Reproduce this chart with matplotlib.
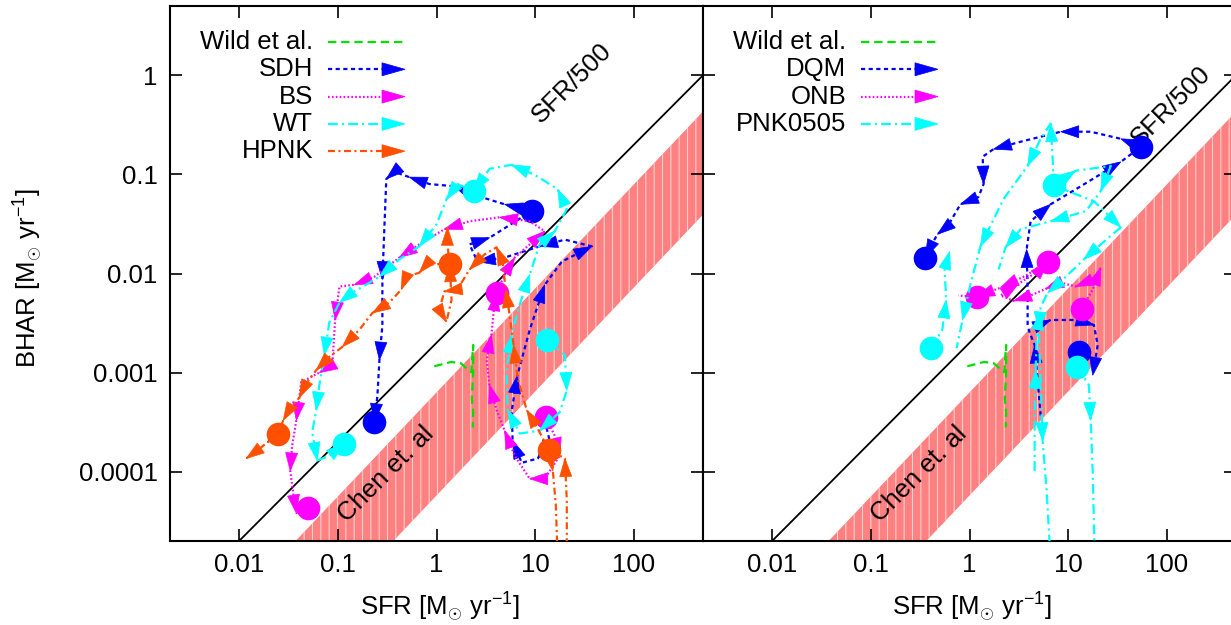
import numpy as np
import matplotlib
matplotlib.use('Agg')
import matplotlib.pyplot as plt
from matplotlib.patches import Polygon
from matplotlib.ticker import FixedLocator, FixedFormatter, NullLocator

nan = np.nan

# tick marks
x_ticks = [0.01, 0.1, 1, 10, 100]
x_labels = ['0.01', '0.1', '1', '10', '100']
y_ticks = [1e-4, 1e-3, 1e-2, 1e-1, 1]
y_labels = ['0.0001', '0.001', '0.01', '0.1', '1']

# Chen et al. relation: log BHAR = norm +/- scatter + slope * log SFR
chen_norm = -3.72
chen_scatter = 0.52
chen_slope = 1.05

# Wild et al. (same curve in both panels)
wild_sfr = [0.95, 1.4, 1.75, 2.0, 2.25, 2.35, 2.35, 2.28, 2.35, 2.33]
wild_bhar = [1.16e-3, 1.28e-3, 1.25e-3, 1.11e-3, 1.01e-3, 1.9e-3, 1.0e-3, 5.5e-4, 4.0e-4, 2.8e-4]

# ---- left panel tracks ----
sdh_sfr = [12.5, 14.0, 10.6, 7.3, 5.9, 5.8, 6.6, 8.8, 12.5, 18.6, 37.5, 20, 11.1, 4.9, 2.6, 2.16,
           3.45, 9.2, 4.9, 2.43, 1.52, 0.85, 0.53, 0.375, 0.31, 0.296, 0.283, 0.283, 0.264, 0.252, 0.235]
sdh_bhar = [3.3e-4, 2.06e-4, 1.36e-4, 1.23e-4, 2.06e-4, 4.2e-4, 9.4e-4, 2.7e-3, 7.7e-3, 1.32e-2, 1.88e-2,
            2.2e-2, 1.88e-2, 1.45e-2, 1.32e-2, 1.97e-2, 2.3e-2, 4.26e-2, 5.0e-2, 6.2e-2, 7.6e-2, 8.0e-2,
            9.4e-2, 0.106, 0.09, 0.028, 8.7e-3, 3.03e-3, 1.34e-3, 5.9e-4, 3.2e-4]
sdh_circ_sfr = [9.2, 0.235]
sdh_circ_bhar = [4.26e-2, 3.2e-4]

bs_sfr = [12.8, 15.8, 17.7, 12.5, 8.8, 6.2, 4.9, 4.06, 3.45, 3.22, 3.6, 3.79, 4.06, 4.9, 6.2, 8.8, 12.5,
          8.8, 4.36, 2.16, 1.2, 0.67, 0.42, 0.235, 0.147, 0.104, 0.094, 0.088, 0.065, 0.0426, 0.038,
          0.0345, 0.033, 0.0353, 0.038, 0.050]
bs_bhar = [3.6e-4, 2.3e-4, 1.45e-4, 8.5e-5, 8.5e-5, 1.45e-4, 2.6e-4, 4.2e-4, 7.5e-4, 1.34e-3, 2.4e-3,
           4.1e-3, 6.4e-3, 9.8e-3, 1.45e-2, 1.97e-2, 2.67e-2, 3.37e-2, 3.7e-2, 3.37e-2, 2.8e-2, 1.97e-2,
           1.45e-2, 9.3e-3, 7.7e-3, 7.4e-3, 3.4e-3, 1.19e-3, 1.0e-3, 8.0e-4, 3.3e-4, 1.84e-4, 1.02e-4,
           6.1e-5, 3.84e-5, 4.3e-5]
bs_circ_sfr = [12.8, 4.06, 0.050]
bs_circ_bhar = [3.6e-4, 6.4e-3, 4.3e-5]

wt_sfr = [13.1, 20, 20.9, 17.7, 11.1, 7.0, 5.26, 5.14, 5.77, 6.96, 8.8, 11.1, 15.8, 20.9, 16.9, 9.9,
          5.77, 3.45, 2.38, 1.63, 1.26, 1.0, 0.67, 0.42, 0.264, 0.14, 0.104, 0.082, 0.073, 0.065,
          0.0605, 0.055, 0.062, 0.082, 0.116]
wt_bhar = [2.14e-3, 1.5e-3, 6.6e-4, 4.0e-4, 2.6e-4, 2.43e-4, 4.2e-4, 1.06e-3, 2.4e-3, 4.84e-3, 9.8e-3,
           1.97e-2, 2.67e-2, 4.47e-2, 7.1e-2, 9.9e-2, 0.125, 0.114, 6.8e-2, 8.0e-2, 5.6e-2, 3.14e-2,
           1.88e-2, 1.39e-2, 9.3e-3, 6.4e-3, 5.1e-3, 3.2e-3, 1.5e-3, 7.5e-4, 4.2e-4, 2.5e-4, 1.3e-4,
           1.45e-4, 1.92e-4]
wt_circ_sfr = [13.1, 2.38, 0.116]
wt_circ_bhar = [2.14e-3, 6.8e-2, 1.92e-4]

hpnk_sfr = [20.9, 20.9, 20, 13.7, 15.1, 16.2, 16.9, nan,
            13.7, 10.6, 8.2, 6.64, 6.05, 5.5, 5.02, 4.68, 4.06, 3.07, 2.16, 1.63, 1.2, 1.07, 1.26, 1.42,
            1.36, 1.29, 1.29, nan,
            1.36, 0.79, 0.67, 0.495, 0.44, 0.333, 0.224, 0.165, 0.111, 0.082, 0.0605, 0.0479, 0.0407,
            0.0322, 0.028, 0.0249, 0.0192, 0.0152, 0.0118]
hpnk_bhar = [1.25e-5, 5.1e-5, 1.36e-4, 1.67e-4, 1.02e-4, 4.5e-5, 1.25e-5, nan,
             1.67e-4, 2.73e-4, 4.2e-4, 8.8e-4, 1.9e-3, 3.84e-3, 6.9e-3, 1.32e-2, 1.84e-2, 1.56e-2,
             1.1e-2, 6.9e-3, 6.6e-3, 4.3e-3, 3.26e-3, 5.4e-3, 1.26e-2, 1.97e-2, 2.93e-2, nan,
             1.26e-2, 1.23e-2, 1.02e-2, 9.3e-3, 6.9e-3, 5.1e-3, 4.0e-3, 2.7e-3, 1.82e-3, 1.44e-3,
             1.06e-3, 7.8e-4, 5.6e-4, 4.2e-4, 3.3e-4, 2.38e-4, 1.97e-4, 1.63e-4, 1.36e-4]
hpnk_circ_sfr = [13.7, 1.36, 0.0249]
hpnk_circ_bhar = [1.67e-4, 1.26e-2, 2.38e-4]

# ---- right panel tracks ----
dqm_sfr = [5.26, 4.9, 4.57, 3.97, 6.64, 11.9, 18.2, 19.9, 17.7, nan,
           3.88, 3.88, 3.79, 4.16, 6.64, 13.4, 34.1, 54.5, 34.1, 16.9, 8.4, 3.3, 1.75, 1.36, 1.39,
           1.23, 0.81, 0.60, 0.473, 0.40, 0.357]
dqm_bhar = [3.7e-4, 8.4e-4, 1.9e-3, 2.7e-3, 3.4e-3, 3.4e-3, 3.03e-3, 1.9e-3, 9.4e-4, nan,
            3.03e-3, 6.9e-3, 1.75e-2, 3.37e-2, 5.0e-2, 7.6e-2, 0.134, 0.19, 0.229, 0.27, 0.27, 0.214,
            0.18, 0.151, 0.080, 0.059, 0.050, 0.030, 0.0249, 0.0184, 0.0145]
dqm_circ_sfr = [54.5, 0.357, 12.8]
dqm_circ_bhar = [0.19, 0.0145, 1.61e-3]

onb_sfr = [13.7, 17.7, 21.4, 17.7, 11.9, 8.4, 5.9, 4.16, 2.8, 2.06, 3.14, 5.26, 6.2, 3.7, 2.06, 1.45,
           1.18, 0.77]
onb_bhar = [4.4e-3, 6.9e-3, 1.15e-2, 8.7e-3, 7.4e-3, 8.1e-3, 7.0e-3, 6.0e-3, 5.3e-3, 6.0e-3, 7.9e-3,
            1.1e-2, 1.32e-2, 9.5e-3, 7.2e-3, 6.3e-3, 5.8e-3, 6.0e-3]
onb_circ_sfr = [13.7, 6.2, 1.18]
onb_circ_bhar = [4.4e-3, 1.32e-2, 5.8e-3]

pnk_sfr = [7.13, 6.96, 6.64, 5.26, 3.88, 2.21, 1.29, 1.02, 0.85, 0.74, nan,
           7.13, 11.9, 27, 21.4, 15.1, 6.64, 3.3, 2.32, 1.97, nan,
           7.13, 9.9, 18.2, 34.1, 21.4, 14.4, 8.4, 6.2, 5.26, 5.02, 5.26, 5.5, 6.05, 6.64, nan,
           12.2, 16.2, 16.9, 17.7, 18.6, nan,
           4.57, 4.57, 4.68, 4.79, 5.26, nan,
           0.41, 0.53, 0.58, 0.56, 0.63]
pnk_bhar = [7.8e-2, 0.144, 0.326, 0.229, 0.122, 0.0564, 0.0188, 7.7e-3, 3.4e-3, 1.77e-3, nan,
            7.8e-2, 0.109, 0.122, 0.068, 0.0426, 0.0337, 0.028, 0.0184, 0.011, nan,
            7.8e-2, 0.068, 0.0538, 0.0293, 0.0197, 0.0139, 8.3e-3, 6.4e-3, 4.6e-3, 2.7e-3, 8.4e-4,
            2.06e-4, 6.4e-5, 1.25e-5, nan,
            1.14e-3, 7.5e-4, 3.3e-4, 1.02e-4, 1.25e-5, nan,
            1.02e-4, 3.3e-4, 1.06e-3, 2.4e-3, 4.1e-3, nan,
            1.77e-3, 2.7e-3, 5.4e-3, 0.011, 0.0167]
pnk_circ_sfr = [7.13, 0.41, 12.2]
pnk_circ_bhar = [7.8e-2, 1.77e-3, 1.14e-3]

# styles
GREEN = '#00e000'
BLUE = '#0000ff'
MAGENTA = '#ff00ff'
CYAN = '#00ffff'
ORANGE = '#ff5000'
DASH_WILD = (6, 3.5)
DASH_BLUE = (3, 2.5)
DASH_MAG = (1.2, 1.6)
DASH_CYAN = (7, 3, 1.5, 3)
DASH_ORANGE = (5, 2.5, 1.5, 2.5)
FS = 18.5

plt.rcParams['font.family'] = ['Liberation Sans', 'DejaVu Sans']
plt.rcParams['mathtext.fontset'] = 'custom'
plt.rcParams['mathtext.rm'] = 'Liberation Sans'
plt.rcParams['mathtext.it'] = 'Liberation Sans:italic'
plt.rcParams['lines.scale_dashes'] = False
plt.rcParams['hatch.linewidth'] = 0.8
plt.rcParams['hatch.color'] = '#ffd0d0'

W, H = 1231, 625
fig = plt.figure(figsize=(W / 100, H / 100), dpi=100)


def make_axes(left_px, show_ylabels):
    ax = fig.add_axes([left_px / W, (H - 541) / H, 533 / W, 535 / H])
    ax.set_xscale('log')
    ax.set_yscale('log')
    ax.set_xlim(10 ** -2.7, 10 ** 2.7)
    ax.set_ylim(2e-5, 10 ** 0.7)
    ax.xaxis.set_major_locator(FixedLocator(x_ticks))
    ax.xaxis.set_major_formatter(FixedFormatter(x_labels))
    ax.yaxis.set_major_locator(FixedLocator(y_ticks))
    ax.yaxis.set_major_formatter(FixedFormatter(y_labels if show_ylabels else [''] * 5))
    ax.xaxis.set_minor_locator(NullLocator())
    ax.yaxis.set_minor_locator(NullLocator())
    ax.tick_params(direction='in', length=8.5, width=1.2, labelsize=FS, pad=9,
                   top=True, right=True)
    for s in ax.spines.values():
        s.set_linewidth(1.5)
    return ax


def head(ax, p0, p1, color, length, width, z):
    # filled arrowhead drawn in pixel space, tip at p1
    d = p1 - p0
    n = np.hypot(d[0], d[1])
    if not np.isfinite(n) or n < 1e-6:
        return
    u = d / n
    perp = np.array([-u[1], u[0]])
    base = p1 - length * u
    pts = np.array([p1, base + perp * width / 2, base - perp * width / 2])
    pts = ax.transAxes.inverted().transform(pts)
    ax.add_patch(Polygon(pts, closed=True, transform=ax.transAxes, fc=color, ec=color,
                         lw=0.5, zorder=z))


def track(ax, sfr, bhar, c_sfr, c_bhar, color, dash, z):
    ax.plot(sfr, bhar, color=color, lw=1.6, linestyle=(0, dash), zorder=z)
    pts = ax.transData.transform(np.column_stack([sfr, bhar]))
    for i in range(len(sfr) - 1):
        if i % 2 == 0:
            continue
        a, b = pts[i], pts[i + 1]
        if not (np.all(np.isfinite(a)) and np.all(np.isfinite(b))):
            continue
        if np.hypot(*(b - a)) < 6:
            continue
        head(ax, a, b, color, 18, 12, z)
    ax.plot(c_sfr, c_bhar, 'o', ms=17, color=color, mec='none', zorder=z + 0.5)


def background(ax):
    x = np.logspace(-2.7, 2.7, 200)
    lo = 10 ** (chen_norm - chen_scatter) * x ** chen_slope
    hi = 10 ** (chen_norm + chen_scatter) * x ** chen_slope
    ax.fill_between(x, lo, hi, facecolor='#ff8080', edgecolor='#ffd0d0', hatch='||',
                    linewidth=0, zorder=1)
    ax.plot(x, x / 500, color='black', lw=1.3, zorder=2)
    ax.plot(wild_sfr, wild_bhar, color=GREEN, lw=1.6, linestyle=(0, DASH_WILD), zorder=3)
    ax.text(0.31, 9.5e-5, 'Chen et. al', rotation=45, rotation_mode='anchor',
            ha='center', va='center', fontsize=FS, zorder=3)


def legend(ax, entries):
    for i, (name, color, dash, arrow) in enumerate(entries):
        ypx = 42 + i * 27.3
        y = 1 - (ypx - 6) / 535
        ax.text(143 / 533, y, name, ha='right', va='center', fontsize=FS,
                transform=ax.transAxes, zorder=10)
        x0, x1 = 158 / 533, 235 / 533
        ax.plot([x0, x1 - (20 / 533 if arrow else 0)], [y, y], color=color, lw=1.6,
                linestyle=(0, dash), transform=ax.transAxes, zorder=10)
        if arrow:
            a = ax.transAxes.transform((x0, y))
            b = ax.transAxes.transform((x1, y))
            head(ax, a, b, color, 23, 13, 10)


ax1 = make_axes(170, True)
ax2 = make_axes(703, False)

background(ax1)
background(ax2)

track(ax1, sdh_sfr, sdh_bhar, sdh_circ_sfr, sdh_circ_bhar, BLUE, DASH_BLUE, 4)
track(ax1, bs_sfr, bs_bhar, bs_circ_sfr, bs_circ_bhar, MAGENTA, DASH_MAG, 5)
track(ax1, wt_sfr, wt_bhar, wt_circ_sfr, wt_circ_bhar, CYAN, DASH_CYAN, 6)
track(ax1, hpnk_sfr, hpnk_bhar, hpnk_circ_sfr, hpnk_circ_bhar, ORANGE, DASH_ORANGE, 7)

track(ax2, dqm_sfr, dqm_bhar, dqm_circ_sfr, dqm_circ_bhar, BLUE, DASH_BLUE, 4)
track(ax2, onb_sfr, onb_bhar, onb_circ_sfr, onb_circ_bhar, MAGENTA, DASH_MAG, 5)
track(ax2, pnk_sfr, pnk_bhar, pnk_circ_sfr, pnk_circ_bhar, CYAN, DASH_CYAN, 6)

ax1.text(12.5, 0.3, 'SFR/500', rotation=45, rotation_mode='anchor', ha='left',
         va='bottom', fontsize=FS, zorder=3)
ax2.text(58, 0.175, 'SFR/500', rotation=45, rotation_mode='anchor', ha='left',
         va='bottom', fontsize=FS, zorder=3)

legend(ax1, [('Wild et al.', GREEN, DASH_WILD, False),
             ('SDH', BLUE, DASH_BLUE, True),
             ('BS', MAGENTA, DASH_MAG, True),
             ('WT', CYAN, DASH_CYAN, True),
             ('HPNK', ORANGE, DASH_ORANGE, True)])
legend(ax2, [('Wild et al.', GREEN, DASH_WILD, False),
             ('DQM', BLUE, DASH_BLUE, True),
             ('ONB', MAGENTA, DASH_MAG, True),
             ('PNK0505', CYAN, DASH_CYAN, True)])

xlab = r'SFR [M$_{\odot}$ yr$^{\mathregular{-1}}$]'
ylab = r'BHAR [M$_{\odot}$ yr$^{\mathregular{-1}}$]'
fig.text(440 / W, 1 - 607 / H, xlab, ha='center', va='center', fontsize=FS)
fig.text(972 / W, 1 - 607 / H, xlab, ha='center', va='center', fontsize=FS)
fig.text(28 / W, 1 - 278 / H, ylab, ha='center', va='center', rotation=90, fontsize=FS)

fig.savefig('out.png', dpi=100)
